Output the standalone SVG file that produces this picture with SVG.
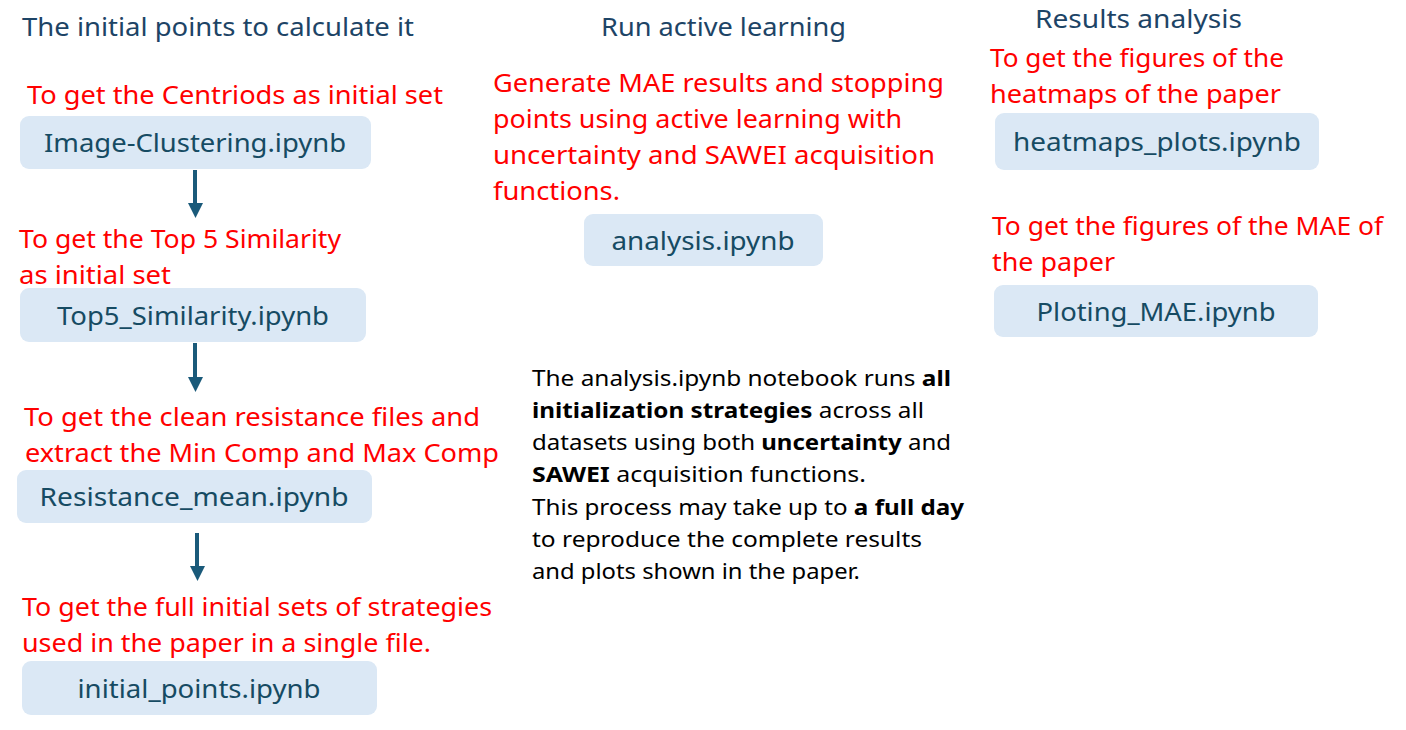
<svg xmlns="http://www.w3.org/2000/svg" width="1406" height="730" viewBox="0 0 1406 730">
<defs>
<style>
text{font-family:"Noto Sans","Open Sans","Liberation Sans",sans-serif;}
.h{font-size:25px;fill:#1d4466;}
.r{font-size:25px;fill:#ff0000;}
.b{font-size:26px;fill:#164b63;text-anchor:middle;}
.p{font-size:21px;fill:#000;}
.p tspan.bo{font-weight:bold;}
.box{fill:#dbe8f5;}
.ar{stroke:#1a5a7a;stroke-width:4;fill:none;}
.ah{fill:#1a5a7a;}
</style>
</defs>
<rect width="1406" height="730" fill="#ffffff"/>
<g id="headings">
<text class="h" x="22" y="36" textLength="392" lengthAdjust="spacingAndGlyphs">The initial points to calculate it</text>
<text class="h" x="601" y="36" textLength="245" lengthAdjust="spacingAndGlyphs">Run active learning</text>
<text class="h" x="1035" y="28" textLength="207" lengthAdjust="spacingAndGlyphs">Results analysis</text>
</g>
<g id="node-image-clustering">
<text class="r" x="27" y="104" textLength="416" lengthAdjust="spacingAndGlyphs">To get the Centriods as initial set</text>
<rect class="box" x="20" y="116" width="351" height="53" rx="9"/>
<text class="b" x="195" y="152" textLength="302" lengthAdjust="spacingAndGlyphs">Image-Clustering.ipynb</text>
</g>
<g id="node-top5">
<text class="r" x="19" y="248" textLength="322" lengthAdjust="spacingAndGlyphs">To get the Top 5 Similarity</text>
<text class="r" x="19" y="284" textLength="152" lengthAdjust="spacingAndGlyphs">as initial set</text>
<rect class="box" x="20" y="288" width="346" height="54" rx="9"/>
<text class="b" x="193" y="325" textLength="272" lengthAdjust="spacingAndGlyphs">Top5_Similarity.ipynb</text>
</g>
<g id="node-resistance">
<text class="r" x="24" y="426" textLength="456" lengthAdjust="spacingAndGlyphs">To get the clean resistance files and</text>
<text class="r" x="25" y="462" textLength="474" lengthAdjust="spacingAndGlyphs">extract the Min Comp and Max Comp</text>
<rect class="box" x="17" y="470" width="355" height="53" rx="9"/>
<text class="b" x="194" y="506" textLength="309" lengthAdjust="spacingAndGlyphs">Resistance_mean.ipynb</text>
</g>
<g id="node-initial-points">
<text class="r" x="22" y="616" textLength="470" lengthAdjust="spacingAndGlyphs">To get the full initial sets of strategies</text>
<text class="r" x="22" y="652" textLength="409" lengthAdjust="spacingAndGlyphs">used in the paper in a single file.</text>
<rect class="box" x="22" y="661" width="355" height="54" rx="9"/>
<text class="b" x="199" y="698" textLength="243" lengthAdjust="spacingAndGlyphs">initial_points.ipynb</text>
</g>
<g id="node-analysis">
<text class="r" x="493" y="92" textLength="451" lengthAdjust="spacingAndGlyphs">Generate MAE results and stopping</text>
<text class="r" x="493" y="128" textLength="409" lengthAdjust="spacingAndGlyphs">points using active learning with</text>
<text class="r" x="493" y="164" textLength="442" lengthAdjust="spacingAndGlyphs">uncertainty and SAWEI acquisition</text>
<text class="r" x="493" y="200" textLength="127" lengthAdjust="spacingAndGlyphs">functions.</text>
<rect class="box" x="584" y="214" width="239" height="52" rx="9"/>
<text class="b" x="703" y="250" textLength="183" lengthAdjust="spacingAndGlyphs">analysis.ipynb</text>
</g>
<g id="note">
<text class="p" x="532" y="386" textLength="419" lengthAdjust="spacingAndGlyphs">The analysis.ipynb notebook runs <tspan class="bo">all</tspan></text>
<text class="p" x="532" y="418" textLength="392" lengthAdjust="spacingAndGlyphs"><tspan class="bo">initialization strategies</tspan> across all</text>
<text class="p" x="532" y="450" textLength="419" lengthAdjust="spacingAndGlyphs">datasets using both <tspan class="bo">uncertainty</tspan> and</text>
<text class="p" x="532" y="482" textLength="334" lengthAdjust="spacingAndGlyphs"><tspan class="bo">SAWEI</tspan> acquisition functions.</text>
<text class="p" x="532" y="515" textLength="432" lengthAdjust="spacingAndGlyphs">This process may take up to <tspan class="bo">a full day</tspan></text>
<text class="p" x="532" y="547" textLength="390" lengthAdjust="spacingAndGlyphs">to reproduce the complete results</text>
<text class="p" x="532" y="579" textLength="328" lengthAdjust="spacingAndGlyphs">and plots shown in the paper.</text>
</g>
<g id="node-heatmaps">
<text class="r" x="990" y="67" textLength="294" lengthAdjust="spacingAndGlyphs">To get the figures of the</text>
<text class="r" x="990" y="103" textLength="291" lengthAdjust="spacingAndGlyphs">heatmaps of the paper</text>
<rect class="box" x="995" y="113" width="324" height="57" rx="9"/>
<text class="b" x="1157" y="151" textLength="288" lengthAdjust="spacingAndGlyphs">heatmaps_plots.ipynb</text>
</g>
<g id="node-ploting-mae">
<text class="r" x="992" y="235" textLength="391" lengthAdjust="spacingAndGlyphs">To get the figures of the MAE of</text>
<text class="r" x="992" y="271" textLength="123" lengthAdjust="spacingAndGlyphs">the paper</text>
<rect class="box" x="994" y="285" width="324" height="52" rx="9"/>
<text class="b" x="1156" y="321" textLength="239" lengthAdjust="spacingAndGlyphs">Ploting_MAE.ipynb</text>
</g>
<g id="connectors">
<line class="ar" x1="195" y1="170" x2="195" y2="204"/>
<polygon class="ah" points="188,203 203,203 195.5,218"/>
<line class="ar" x1="195" y1="343" x2="195" y2="378"/>
<polygon class="ah" points="188,377 203,377 195.5,392"/>
<line class="ar" x1="197" y1="533" x2="197" y2="567"/>
<polygon class="ah" points="190,566 205,566 197.5,581"/>
</g>
</svg>
